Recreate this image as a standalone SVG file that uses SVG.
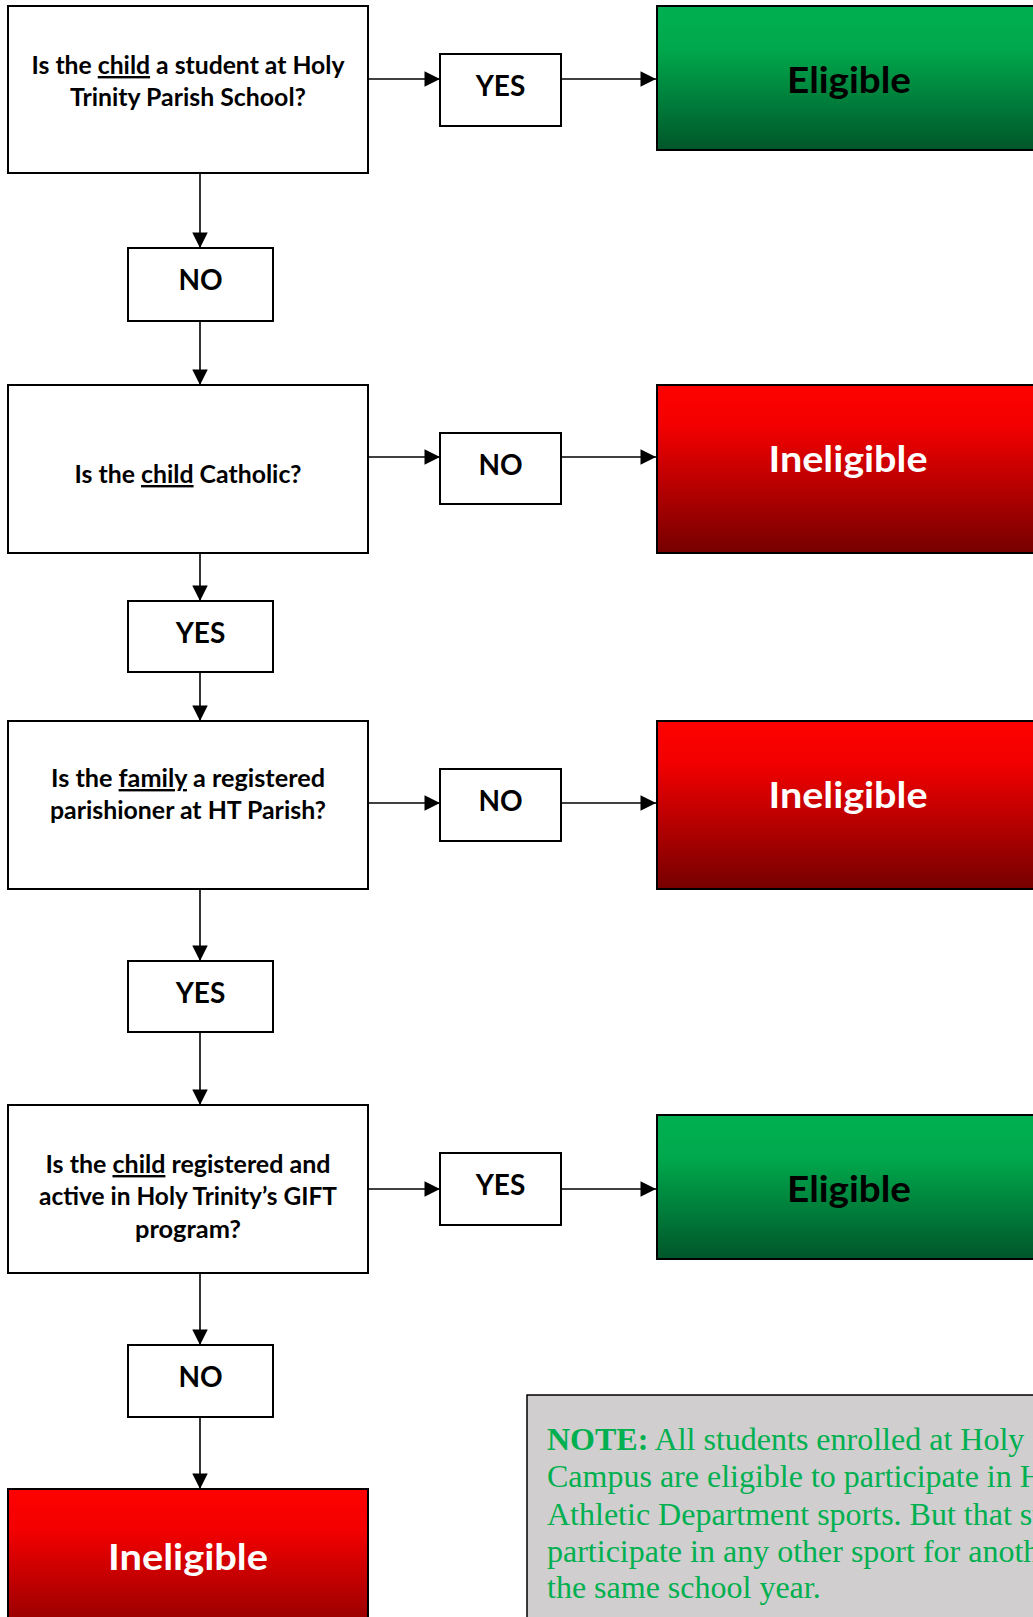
<svg xmlns="http://www.w3.org/2000/svg" width="1033" height="1617" viewBox="0 0 1033 1617">
<style>
.q{fill:#fff;stroke:#000;stroke-width:2}
.lbl{fill:#fff;stroke:#000;stroke-width:2}
.qt{font-family:Lato,"Liberation Sans",sans-serif;font-weight:bold;font-size:24px;fill:#000;text-anchor:middle}
.lt{font-family:Lato,"Liberation Sans",sans-serif;font-weight:bold;font-size:28px;fill:#000;text-anchor:middle}
.big{font-family:Lato,"Liberation Sans",sans-serif;font-weight:bold;font-size:37px;text-anchor:middle}
.u{text-decoration:underline}
.con{stroke:#000;stroke-width:1.6;fill:none;marker-end:url(#arr)}
.note{font-family:"Liberation Serif","Times New Roman",serif;font-size:32px;fill:#00b050}
</style>
<defs>
<marker id="arr" markerWidth="10" markerHeight="10" refX="10" refY="5" orient="auto" markerUnits="userSpaceOnUse" viewBox="0 0 10 10" style="overflow:visible">
<path d="M0,0 L10,5 L0,10 Z" fill="#000" transform="scale(1.55)" transform-origin="10 5"/>
</marker>
<linearGradient id="green" x1="0" y1="0" x2="0" y2="1">
<stop offset="0" stop-color="#00b050"/>
<stop offset="0.3" stop-color="#00a84c"/>
<stop offset="1" stop-color="#00562a"/>
</linearGradient>
<linearGradient id="red" x1="0" y1="0" x2="0" y2="1">
<stop offset="0" stop-color="#ff0000"/>
<stop offset="0.25" stop-color="#f20000"/>
<stop offset="1" stop-color="#760000"/>
</linearGradient>
</defs>

<g id="connectors">
<line class="con" x1="368" y1="79" x2="440" y2="79"/>
<line class="con" x1="561" y1="79" x2="656" y2="79"/>
<line class="con" x1="200" y1="173" x2="200" y2="248"/>
<line class="con" x1="200" y1="321" x2="200" y2="385"/>
<line class="con" x1="368" y1="457" x2="440" y2="457"/>
<line class="con" x1="561" y1="457" x2="656" y2="457"/>
<line class="con" x1="200" y1="553" x2="200" y2="601"/>
<line class="con" x1="200" y1="672" x2="200" y2="721"/>
<line class="con" x1="368" y1="803" x2="440" y2="803"/>
<line class="con" x1="561" y1="803" x2="656" y2="803"/>
<line class="con" x1="200" y1="889" x2="200" y2="961"/>
<line class="con" x1="200" y1="1032" x2="200" y2="1105"/>
<line class="con" x1="368" y1="1189" x2="440" y2="1189"/>
<line class="con" x1="561" y1="1189" x2="656" y2="1189"/>
<line class="con" x1="200" y1="1273" x2="200" y2="1345"/>
<line class="con" x1="200" y1="1417" x2="200" y2="1489"/>
</g>

<g id="q1">
<rect class="q" x="8" y="6" width="360" height="167"/>
<text class="qt" x="188" y="74" textLength="313" lengthAdjust="spacingAndGlyphs">Is the <tspan class="u">child</tspan> a student at Holy</text>
<text class="qt" x="188" y="106" textLength="236" lengthAdjust="spacingAndGlyphs">Trinity Parish School?</text>
</g>
<g id="q1-yes">
<rect class="lbl" x="440" y="54" width="121" height="72"/>
<text class="lt" x="500.5" y="96">YES</text>
</g>
<g id="eligible1">
<rect x="657" y="6" width="390" height="144" fill="url(#green)" stroke="#000" stroke-width="2"/>
<text class="big" x="849" y="93" fill="#000" textLength="124" lengthAdjust="spacingAndGlyphs">Eligible</text>
</g>
<g id="q1-no">
<rect class="lbl" x="128" y="248" width="145" height="73"/>
<text class="lt" x="200.5" y="290">NO</text>
</g>

<g id="q2">
<rect class="q" x="8" y="385" width="360" height="168"/>
<text class="qt" x="188" y="483" textLength="227" lengthAdjust="spacingAndGlyphs">Is the <tspan class="u">child</tspan> Catholic?</text>
</g>
<g id="q2-no">
<rect class="lbl" x="440" y="433" width="121" height="71"/>
<text class="lt" x="500.5" y="475">NO</text>
</g>
<g id="ineligible1">
<rect x="657" y="385" width="390" height="168" fill="url(#red)" stroke="#000" stroke-width="2"/>
<text class="big" x="848" y="472" fill="#fff" textLength="159" lengthAdjust="spacingAndGlyphs">Ineligible</text>
</g>
<g id="q2-yes">
<rect class="lbl" x="128" y="601" width="145" height="71"/>
<text class="lt" x="200.5" y="643">YES</text>
</g>

<g id="q3">
<rect class="q" x="8" y="721" width="360" height="168"/>
<text class="qt" x="188" y="787" textLength="274" lengthAdjust="spacingAndGlyphs">Is the <tspan class="u">family</tspan> a registered</text>
<text class="qt" x="188" y="819" textLength="276" lengthAdjust="spacingAndGlyphs">parishioner at HT Parish?</text>
</g>
<g id="q3-no">
<rect class="lbl" x="440" y="769" width="121" height="72"/>
<text class="lt" x="500.5" y="811">NO</text>
</g>
<g id="ineligible2">
<rect x="657" y="721" width="390" height="168" fill="url(#red)" stroke="#000" stroke-width="2"/>
<text class="big" x="848" y="808" fill="#fff" textLength="159" lengthAdjust="spacingAndGlyphs">Ineligible</text>
</g>
<g id="q3-yes">
<rect class="lbl" x="128" y="961" width="145" height="71"/>
<text class="lt" x="200.5" y="1003">YES</text>
</g>

<g id="q4">
<rect class="q" x="8" y="1105" width="360" height="168"/>
<text class="qt" x="188" y="1173" textLength="285" lengthAdjust="spacingAndGlyphs">Is the <tspan class="u">child</tspan> registered and</text>
<text class="qt" x="188" y="1205" textLength="298" lengthAdjust="spacingAndGlyphs">active in Holy Trinity’s GIFT</text>
<text class="qt" x="188" y="1238" textLength="106" lengthAdjust="spacingAndGlyphs">program?</text>
</g>
<g id="q4-yes">
<rect class="lbl" x="440" y="1153" width="121" height="72"/>
<text class="lt" x="500.5" y="1195">YES</text>
</g>
<g id="eligible2">
<rect x="657" y="1115" width="390" height="144" fill="url(#green)" stroke="#000" stroke-width="2"/>
<text class="big" x="849" y="1202" fill="#000" textLength="124" lengthAdjust="spacingAndGlyphs">Eligible</text>
</g>
<g id="q4-no">
<rect class="lbl" x="128" y="1345" width="145" height="72"/>
<text class="lt" x="200.5" y="1387">NO</text>
</g>
<g id="ineligible3">
<rect x="8" y="1489" width="360" height="168" fill="url(#red)" stroke="#000" stroke-width="2"/>
<text class="big" x="188" y="1570" fill="#fff" textLength="160" lengthAdjust="spacingAndGlyphs">Ineligible</text>
</g>

<g id="note">
<rect x="527" y="1395" width="520" height="240" fill="#d0cece" stroke="#000" stroke-width="1.5"/>
<text class="note" x="547" y="1450"><tspan font-weight="bold">NOTE:</tspan> All students enrolled at Holy</text>
<text class="note" x="547" y="1487">Campus are eligible to participate in H</text>
<text class="note" x="547" y="1525">Athletic Department sports. But that st</text>
<text class="note" x="547" y="1562">participate in any other sport for anoth</text>
<text class="note" x="547" y="1598">the same school year.</text>
</g>
</svg>
